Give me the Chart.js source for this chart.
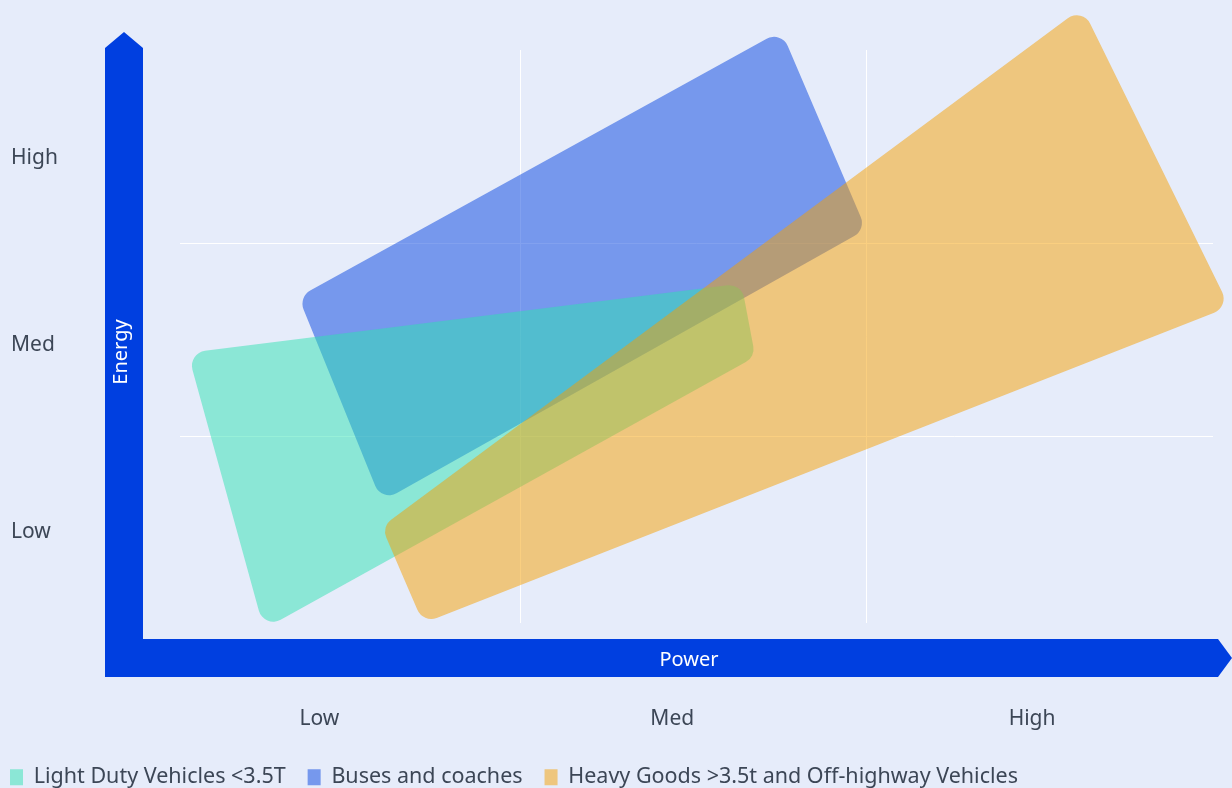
<!DOCTYPE html>
<html>
<head>
<meta charset="utf-8">
<script src="https://cdn.jsdelivr.net/npm/chart.js@4/dist/chart.umd.min.js"></script>
<style>
  html, body { margin: 0; padding: 0; background: #e6ecfa; }
  #wrap { width: 1232px; height: 788px; }
</style>
</head>
<body>
<div id="wrap"><canvas id="chart"></canvas></div>
<script>
// levels on both axes
const levelLabels = ["Low", "Med", "High"];
const powerTickValues = [0.42, 1.44, 2.48];
const energyTickValues = [0.50, 1.47, 2.44];

const categories = [
  "Light Duty Vehicles <3.5T",
  "Buses and coaches",
  "Heavy Goods >3.5t and Off-highway Vehicles"
];

// corner points of each region (power, energy), clockwise from top-left
const lightDutyPower = [0.04, 1.64, 1.68, 0.26];
const lightDutyEnergy = [1.43, 1.79, 1.41, 0.00];
const busesPower = [0.36, 1.755, 2.00, 0.60];
const busesEnergy = [1.72, 3.10, 2.07, 0.66];
const heavyPower = [0.60, 2.625, 3.05, 0.72];
const heavyEnergy = [0.53, 3.22, 1.67, 0.03];

const colors = ["rgba(47,225,178,0.5)", "rgba(5,67,224,0.5)", "rgba(245,159,2,0.5)"];
const axisBlue = "#003fe0";
const textColor = "#3c4656";
const fontFamily = "'Noto Sans', 'Open Sans', sans-serif";

const toPoints = (xs, ys) => xs.map((x, i) => ({ x: x, y: ys[i] }));

function roundedPoly(ctx, pts, r) {
  const n = pts.length;
  ctx.beginPath();
  ctx.moveTo((pts[n - 1].x + pts[0].x) / 2, (pts[n - 1].y + pts[0].y) / 2);
  for (let i = 0; i < n; i++) {
    const p = pts[i], q = pts[(i + 1) % n];
    ctx.arcTo(p.x, p.y, q.x, q.y, r);
  }
  ctx.closePath();
}

const regionsPlugin = {
  id: "regions",
  afterLayout(chart) {
    // legend sits flush with the left edge, a bit lower
    const lg = chart.legend;
    if (lg) { lg.left -= 23; lg.right -= 23; lg.top += 10; lg.bottom += 10; }
  },
  beforeDatasetsDraw(chart) {
    const { ctx, chartArea, scales } = chart;
    ctx.save();
    // grid lines between levels
    ctx.strokeStyle = "#ffffff";
    ctx.lineWidth = 1;
    [1, 2].forEach(v => {
      const x = Math.round(scales.x.getPixelForValue(v)) + 0.5;
      ctx.beginPath();
      ctx.moveTo(x, chartArea.top);
      ctx.lineTo(x, chartArea.bottom - 6);
      ctx.stroke();
      const y = Math.round(scales.y.getPixelForValue(v)) + 0.5;
      ctx.beginPath();
      ctx.moveTo(chartArea.left + 6, y);
      ctx.lineTo(chartArea.right + 1, y);
      ctx.stroke();
    });
    // shapes: buses below, light duty, heavy on top
    [1, 0, 2].forEach(i => {
      const meta = chart.getDatasetMeta(i);
      const pts = meta.data.map(el => ({ x: el.x, y: el.y }));
      ctx.fillStyle = chart.data.datasets[i].backgroundColor;
      roundedPoly(ctx, pts, 15);
      ctx.fill();
    });
    ctx.restore();
  },
  afterDraw(chart) {
    const { ctx, chartArea } = chart;
    const l = chartArea.left, b = chartArea.bottom;
    ctx.save();
    ctx.fillStyle = axisBlue;
    // vertical arrow
    ctx.beginPath();
    ctx.moveTo(l - 69, b + 48);
    ctx.lineTo(l - 69, 48);
    ctx.lineTo(l - 50, 32);
    ctx.lineTo(l - 31, 48);
    ctx.lineTo(l - 31, b + 48);
    ctx.closePath();
    ctx.fill();
    // horizontal arrow
    ctx.beginPath();
    ctx.moveTo(l - 69, b + 10);
    ctx.lineTo(1218, b + 10);
    ctx.lineTo(1232, b + 29);
    ctx.lineTo(1218, b + 48);
    ctx.lineTo(l - 69, b + 48);
    ctx.closePath();
    ctx.fill();
    // axis titles
    ctx.fillStyle = "#ffffff";
    ctx.font = "20px " + fontFamily;
    ctx.textAlign = "center";
    ctx.textBaseline = "middle";
    ctx.fillText("Power", 689, b + 31);
    ctx.translate(l - 53, 352);
    ctx.rotate(-Math.PI / 2);
    ctx.fillText("Energy", 0, 0);
    ctx.restore();
  }
};

new Chart(document.getElementById("chart"), {
  type: "scatter",
  data: {
    datasets: [
      { label: categories[0], data: toPoints(lightDutyPower, lightDutyEnergy), backgroundColor: colors[0] },
      { label: categories[1], data: toPoints(busesPower, busesEnergy), backgroundColor: colors[1] },
      { label: categories[2], data: toPoints(heavyPower, heavyEnergy), backgroundColor: colors[2] }
    ].map(d => Object.assign(d, { pointRadius: 0, borderWidth: 0, showLine: false, clip: false }))
  },
  options: {
    responsive: true,
    maintainAspectRatio: false,
    animation: false,
    events: [],
    layout: { padding: { left: 11, right: 20, top: 50, bottom: 0 } },
    scales: {
      x: {
        type: "linear", min: 0, max: 3,
        grid: { display: false }, border: { display: false },
        afterBuildTicks: s => { s.ticks = powerTickValues.map(v => ({ value: v })); },
        afterFit: s => { s.height = 159 - (s.chart.legend ? s.chart.legend.height : 0); },
        ticks: {
          padding: 69, color: textColor, font: { family: fontFamily, size: 21 },
          maxRotation: 0, autoSkip: false,
          callback: (v, i) => levelLabels[i]
        }
      },
      y: {
        type: "linear", min: 0, max: 3,
        grid: { display: false }, border: { display: false },
        afterBuildTicks: s => { s.ticks = energyTickValues.map(v => ({ value: v })); },
        afterFit: s => { s.width = 163; },
        ticks: {
          crossAlign: "far", color: textColor, font: { family: fontFamily, size: 21 },
          autoSkip: false,
          callback: (v, i) => levelLabels[i]
        }
      }
    },
    plugins: {
      tooltip: { enabled: false },
      legend: {
        position: "bottom",
        align: "start",
        labels: {
          boxWidth: 13, boxHeight: 16, padding: 22,
          color: textColor, font: { family: fontFamily, size: 21.5 }
        }
      }
    }
  },
  plugins: [regionsPlugin]
});
</script>
</body>
</html>
